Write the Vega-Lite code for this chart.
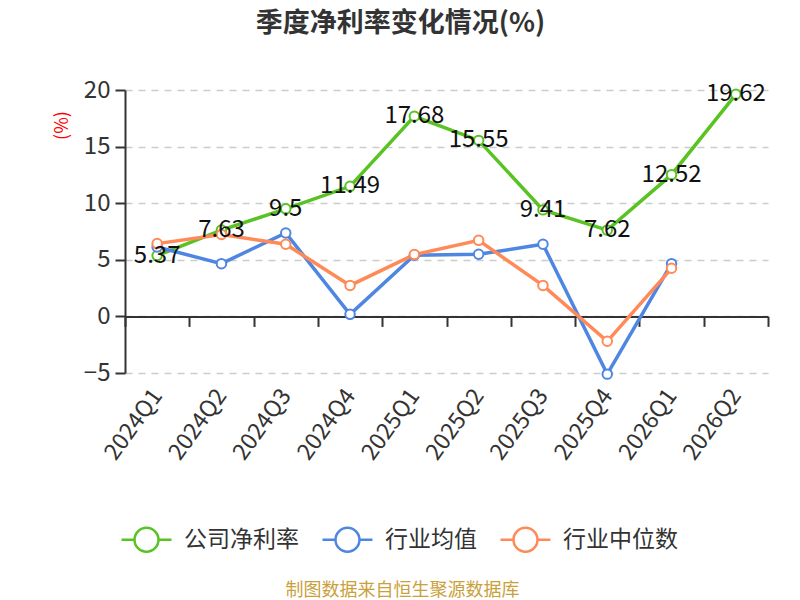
{
  "$schema": "https://vega.github.io/schema/vega-lite/v6.json",
  "width": 643,
  "height": 283,
  "autosize": {"type": "none"},
  "padding": {"left": 125, "top": 90, "right": 32, "bottom": 227},
  "background": "white",
  "config": {
    "view": {"stroke": null},
    "font": "Noto Sans CJK SC"
  },
  "title": {
    "text": "季度净利率变化情况(%)",
    "fontSize": 27,
    "fontWeight": "bold",
    "color": "#333333",
    "anchor": "middle",
    "dx": -46,
    "offset": 40,
    "font": "Noto Sans CJK SC"
  },
  "data": {
    "values": [
      {"quarter": "2024Q1", "series": "公司净利率", "value": 5.37},
      {"quarter": "2024Q2", "series": "公司净利率", "value": 7.63},
      {"quarter": "2024Q3", "series": "公司净利率", "value": 9.5},
      {"quarter": "2024Q4", "series": "公司净利率", "value": 11.49},
      {"quarter": "2025Q1", "series": "公司净利率", "value": 17.68},
      {"quarter": "2025Q2", "series": "公司净利率", "value": 15.55},
      {"quarter": "2025Q3", "series": "公司净利率", "value": 9.41},
      {"quarter": "2025Q4", "series": "公司净利率", "value": 7.62},
      {"quarter": "2026Q1", "series": "公司净利率", "value": 12.52},
      {"quarter": "2026Q2", "series": "公司净利率", "value": 19.62},
      {"quarter": "2024Q1", "series": "行业均值", "value": 6.13},
      {"quarter": "2024Q2", "series": "行业均值", "value": 4.66},
      {"quarter": "2024Q3", "series": "行业均值", "value": 7.37},
      {"quarter": "2024Q4", "series": "行业均值", "value": 0.18},
      {"quarter": "2025Q1", "series": "行业均值", "value": 5.4},
      {"quarter": "2025Q2", "series": "行业均值", "value": 5.49},
      {"quarter": "2025Q3", "series": "行业均值", "value": 6.37},
      {"quarter": "2025Q4", "series": "行业均值", "value": -5.1},
      {"quarter": "2026Q1", "series": "行业均值", "value": 4.66},
      {"quarter": "2024Q1", "series": "行业中位数", "value": 6.43},
      {"quarter": "2024Q2", "series": "行业中位数", "value": 7.23},
      {"quarter": "2024Q3", "series": "行业中位数", "value": 6.37},
      {"quarter": "2024Q4", "series": "行业中位数", "value": 2.74},
      {"quarter": "2025Q1", "series": "行业中位数", "value": 5.46},
      {"quarter": "2025Q2", "series": "行业中位数", "value": 6.72},
      {"quarter": "2025Q3", "series": "行业中位数", "value": 2.74},
      {"quarter": "2025Q4", "series": "行业中位数", "value": -2.2},
      {"quarter": "2026Q1", "series": "行业中位数", "value": 4.25}
    ]
  },
  "encoding": {
    "x": {
      "field": "quarter",
      "type": "nominal",
      "sort": null,
      "bandPosition": 0.5,
      "scale": {"type": "band", "paddingInner": 0, "paddingOuter": 0},
      "axis": {
        "title": "制图数据来自恒生聚源数据库",
        "titleFontSize": 18,
        "titleFontWeight": "normal",
        "titleColor": "#C9A13B",
        "titleX": 277,
        "titleY": 274,
        "titleAlign": "center",
        "titleBaseline": "middle",
        "titleAngle": 0,
        "offset": -56.6,
        "domain": true,
        "domainColor": "#333333",
        "domainWidth": 2,
        "ticks": true,
        "tickBand": "extent",
        "tickSize": 10,
        "tickColor": "#333333",
        "tickWidth": 2,
        "grid": false,
        "labelAngle": -54,
        "labelAlign": "right",
        "labelBaseline": "middle",
        "labelPadding": 65,
        "labelFontSize": 23,
        "labelColor": "#333333",
        "labelFont": "Noto Sans CJK SC"
      }
    },
    "y": {
      "field": "value",
      "type": "quantitative",
      "scale": {"domain": [-5, 20], "nice": false, "zero": false},
      "axis": {
        "title": "(%)",
        "titleColor": "#FF0000",
        "titleFontSize": 18,
        "titleFontWeight": "normal",
        "titleAngle": -90,
        "titleX": -63,
        "titleY": 35,
        "titleAlign": "center",
        "titleBaseline": "middle",
        "values": [-5, 0, 5, 10, 15, 20],
        "domain": true,
        "domainColor": "#333333",
        "domainWidth": 2,
        "ticks": true,
        "tickSize": 10,
        "tickColor": "#333333",
        "tickWidth": 2,
        "labelFontSize": 24,
        "labelColor": "#333333",
        "labelPadding": 5,
        "labelFont": "Noto Sans CJK SC",
        "grid": true,
        "gridColor": "#CCCCCC",
        "gridDash": [7, 6],
        "gridWidth": 1.5
      }
    },
    "stroke": {
      "field": "series",
      "type": "nominal",
      "scale": {
        "domain": ["公司净利率", "行业均值", "行业中位数"],
        "range": ["#58C322", "#4F86E2", "#FF8A57"]
      },
      "legend": {
        "title": null,
        "orient": "none",
        "direction": "horizontal",
        "legendX": -5,
        "legendY": 423,
        "padding": 0,
        "symbolType": "M-1,0L-0.48,0M0.48,0L1,0M0.48,0A0.48,0.48,0,1,1,-0.48,0A0.48,0.48,0,1,1,0.48,0",
        "symbolSize": 2500,
        "symbolStrokeWidth": 2.5,
        "symbolFillColor": "white",
        "labelFontSize": 23,
        "labelColor": "#333333",
        "labelFont": "Noto Sans CJK SC",
        "labelOffset": 11,
        "columnPadding": 18
      }
    }
  },
  "layer": [
    {
      "mark": {"type": "line", "strokeWidth": 3.5}
    },
    {
      "mark": {"type": "point", "shape": "circle", "filled": false, "fill": "white", "fillOpacity": 1, "size": 90, "strokeWidth": 2, "opacity": 1}
    },
    {
      "transform": [{"filter": "datum.series === '公司净利率'"}],
      "mark": {"type": "text", "fontSize": 24, "color": "#111111", "align": "center", "baseline": "middle", "font": "Noto Sans CJK SC"},
      "encoding": {
        "text": {"field": "value", "type": "nominal"},
        "stroke": {"value": null}
      }
    }
  ]
}
